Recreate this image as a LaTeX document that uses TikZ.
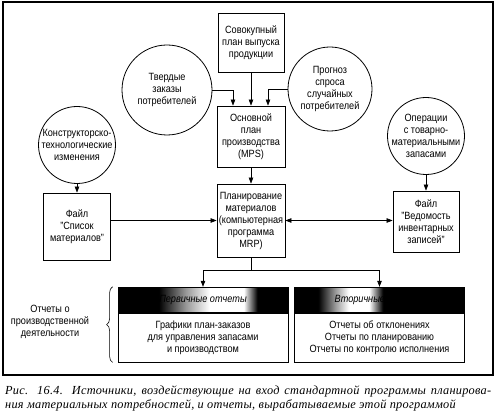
\documentclass[tikz,border=0pt]{standalone}
\usepackage{fontspec}
\setmainfont[FakeStretch=0.87]{Liberation Sans}
\newfontfamily\capfont[LetterSpace=2.2]{Liberation Serif}
\usetikzlibrary{positioning,arrows.meta,shapes,calc,decorations.pathreplacing}
\pgfdeclarehorizontalshading{primglow}{100bp}{color(0bp)=(black); color(37bp)=(black); color(45bp)=(black!40); color(52bp)=(white); color(62bp)=(white); color(66bp)=(black); color(100bp)=(black)}
\pgfdeclarehorizontalshading{secglow}{100bp}{color(0bp)=(black); color(32bp)=(black); color(37bp)=(black!40); color(41bp)=(white); color(47bp)=(white); color(51bp)=(black); color(100bp)=(black)}
\tikzset{main node/.style={draw,line width=0.8pt,align=center,font=\fontsize{10.5}{12}\selectfont},
box node/.style={main node,rectangle,inner sep=0.5pt},
src node/.style={main node,circle,inner sep=-4pt},
rep node/.style={box node,minimum width=170pt,minimum height=49pt},
head node/.style={draw,line width=0.8pt,minimum width=170pt,minimum height=25pt,inner sep=0pt,
font=\fontsize{10.5}{12}\selectfont\itshape},
arr/.style={line width=0.6pt,-{Triangle[length=6pt,width=4.5pt]}},
cap node/.style={anchor=base west,inner sep=0pt,font=\capfont\itshape\fontsize{12.3}{14}\selectfont}}

\begin{document}
\begin{tikzpicture}[x=1pt,y=-1pt]
    \useasboundingbox (0,0) rectangle (496,419);
    \draw[line width=1.1pt] (3,2) rectangle (493,375);

    \node[box node,minimum width=66pt,minimum height=59pt] (plan) at (251,42.5) {Совокупный\\план выпуска\\продукции};
    \node[box node,minimum width=68pt,minimum height=61pt] (mps) at (251,136.5) {Основной\\план\\производства\\(MPS)};
    \node[box node,minimum width=68pt,minimum height=73pt] (mrp) at (251,220.5) {Планирование\\материалов\\(компьютерная\\программа\\MRP)};
    \node[src node,minimum size=90pt] (orders) at (167,90) {Твердые\\заказы\\потребителей};
    \node[src node,minimum size=84pt] (forecast) at (330,89) {Прогноз\\спроса\\случайных\\потребителей};
    \node[src node,minimum size=77pt] (design) at (77,145) {Конструкторско-\\технологические\\изменения};
    \node[src node,minimum size=77pt] (stock) at (426,136) {Операции\\с товарно-\\материальными\\запасами};
    \node[box node,minimum width=67pt,minimum height=67pt] (bom) at (77,226.5) {Файл\\"Список\\материалов"};
    \node[box node,minimum width=66pt,minimum height=61pt] (inv) at (426,221.5) {Файл\\"Ведомость\\инвентарных\\записей"};

    \draw[arr] (plan) -- (mps);
    \draw[arr] (orders.east) -| ([xshift=-18pt]mps.north);
    \draw[arr] (forecast.west) -| ([xshift=17pt]mps.north);
    \draw[arr] (mps) -- (mrp);
    \draw[arr] (design) -- (bom);
    \draw[arr] (stock) -- (inv);
    \draw[arr] (bom.east |- mrp.west) -- (mrp.west);
    \draw[arr,{Triangle[length=6pt,width=4.5pt]}-{Triangle[length=6pt,width=4.5pt]}] (mrp.east) -- (inv.west |- mrp.east);

    \node[rep node] (prim) at (203,337.5) {Графики план-заказов\\для управления запасами\\и производством};
    \node[head node,shade,shading=primglow,above=0pt of prim] (primhead) {Первичные отчеты};
    \node[rep node] (sec) at (379.5,337.5) {Отчеты об отклонениях\\Отчеты по планированию\\Отчеты по контролю исполнения};
    \node[head node,shade,shading=secglow,above=0pt of sec] (sechead) {Вторичные отчеты};

    \coordinate (fork) at ($(mrp.south)+(0,13)$);
    \draw[line width=0.6pt] (mrp.south) -- (fork);
    \draw[arr] (fork) -| (primhead.north);
    \draw[arr] (fork) -| (sechead.north);

    \draw[line width=0.6pt,decorate,decoration={brace,amplitude=6pt}]
    ([xshift=-5pt]prim.south west) -- ([xshift=-5pt]primhead.north west);
    \node[align=center,font=\fontsize{10.5}{12}\selectfont] (activ) at (50,322) {Отчеты о\\производственной\\деятельности};

    \node[cap node] (cap1) at (5,395) {\makebox[486pt][s]{Рис. 16.4. Источники, воздействующие на вход стандартной программы планирова-}};
    \node[cap node] (cap2) at (5,409) {ния материальных потребностей, и отчеты, вырабатываемые этой программой};
\end{tikzpicture}
\end{document}
